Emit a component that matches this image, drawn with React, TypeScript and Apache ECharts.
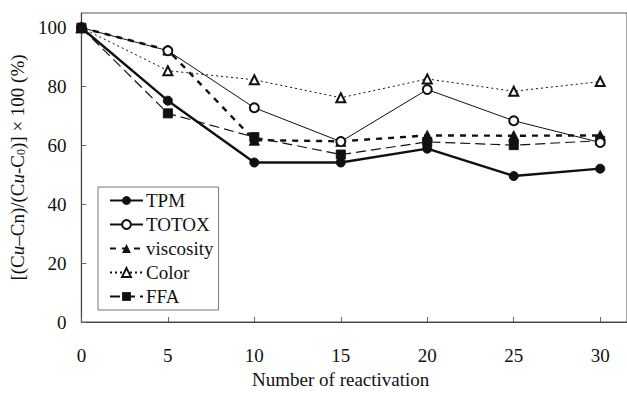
import React, { useEffect, useRef } from "react";
import * as echarts from "echarts";

const reactivations = [0, 5, 10, 15, 20, 25, 30];
const tpm = [100, 75.2, 54.2, 54.2, 58.9, 49.6, 52.1];
const totox = [100, 92.2, 72.8, 61.3, 79, 68.4, 61];
const viscosity = [100, 92.4, 61.8, 61.4, 63.4, 63.3, 63.4];
const color = [100, 85.4, 82.3, 76.2, 82.6, 78.4, 81.7];
const ffa = [100, 70.9, 62.8, 56.9, 61.2, 60.1, 61.6];

const FONT = "Liberation Serif, Times New Roman, serif";
const INK = "#111";

function pairs(v: number[]) {
  return reactivations.map((x, i) => [x, v[i]]);
}

export default function App() {
  const ref = useRef<HTMLDivElement>(null);
  useEffect(() => {
    if (!ref.current) return;
    const chart = echarts.init(ref.current, null, { renderer: "svg" });
    chart.setOption({
      animation: false,
      backgroundColor: "#fff",
      textStyle: { fontFamily: FONT, color: INK },
      grid: { left: 80, right: -2, top: 13, bottom: 68, show: true, borderColor: "#555", borderWidth: 1 },
      legend: {
        orient: "vertical",
        left: 98,
        top: 187,
        itemWidth: 33,
        itemHeight: 11,
        itemGap: 5,
        padding: [4, 5, 4, 11],
        borderColor: "#777",
        borderWidth: 1,
        textStyle: { fontFamily: FONT, fontSize: 19, color: INK, padding: [0, 0, 0, -2] },
        data: ["TPM", "TOTOX", "viscosity", "Color", "FFA"],
      },
      xAxis: {
        type: "value",
        min: 0,
        max: 31.55,
        interval: 5,
        name: "Number of reactivation",
        nameLocation: "middle",
        nameGap: 48,
        nameTextStyle: { fontFamily: FONT, fontSize: 19, color: INK, padding: [0, 27, 0, 0] },
        axisLine: { lineStyle: { color: "#444", width: 1.2 } },
        axisTick: { inside: true, length: 5, lineStyle: { color: "#666" } },
        axisLabel: { margin: 24, fontFamily: FONT, fontSize: 19, color: INK, showMaxLabel: false },
        splitLine: { show: false },
      },
      yAxis: {
        type: "value",
        min: 0,
        max: 105,
        interval: 20,
        name: "[(C{i|u}–Cn)/(C{i|u}-C{s|0})] × 100 (%)",
        nameLocation: "middle",
        nameRotate: 90,
        nameGap: 39,
        nameTextStyle: {
          fontFamily: FONT,
          fontSize: 19,
          color: INK,
          rich: {
            i: { fontFamily: FONT, fontSize: 19, fontStyle: "italic", color: INK },
            s: { fontFamily: FONT, fontSize: 12, color: INK, verticalAlign: "bottom", padding: [7, 0, 0, 0] },
          },
        },
        axisLine: { show: true, lineStyle: { color: "#444", width: 1.2 } },
        axisTick: { show: true, inside: true, length: 5, lineStyle: { color: "#666" } },
        axisLabel: { margin: 15, fontFamily: FONT, fontSize: 19, color: INK, showMaxLabel: false },
        splitLine: { show: false },
      },
      series: [
        {
          name: "TPM",
          type: "line",
          data: pairs(tpm),
          symbol: "circle",
          symbolSize: 9,
          lineStyle: { color: INK, width: 2.4, type: "solid" },
          itemStyle: { color: INK, borderColor: INK },
          z: 5,
        },
        {
          name: "TOTOX",
          type: "line",
          data: pairs(totox),
          symbol: "emptyCircle",
          symbolSize: 9,
          lineStyle: { color: INK, width: 1, type: "solid" },
          itemStyle: { color: INK, borderColor: INK, borderWidth: 1 },
          z: 4,
        },
        {
          name: "viscosity",
          type: "line",
          data: pairs(viscosity),
          symbol: "triangle",
          symbolSize: 10,
          lineStyle: { color: INK, width: 2.4, type: [6, 6] },
          itemStyle: { color: INK, borderColor: INK },
          z: 3,
        },
        {
          name: "Color",
          type: "line",
          data: pairs(color),
          symbol: "emptyTriangle",
          symbolSize: 9,
          lineStyle: { color: INK, width: 1, type: [2, 3] },
          itemStyle: { color: INK, borderColor: INK, borderWidth: 1 },
          z: 2,
        },
        {
          name: "FFA",
          type: "line",
          data: pairs(ffa),
          symbol: "rect",
          symbolSize: 9,
          lineStyle: { color: INK, width: 1.2, type: [10, 5] },
          itemStyle: { color: INK, borderColor: INK },
          z: 1,
        },
      ],
    });
    return () => chart.dispose();
  }, []);
  return (
    <div
      ref={ref}
      style={{ position: "fixed", left: 0, top: 0, width: 627, height: 394, background: "#fff" }}
    />
  );
}
